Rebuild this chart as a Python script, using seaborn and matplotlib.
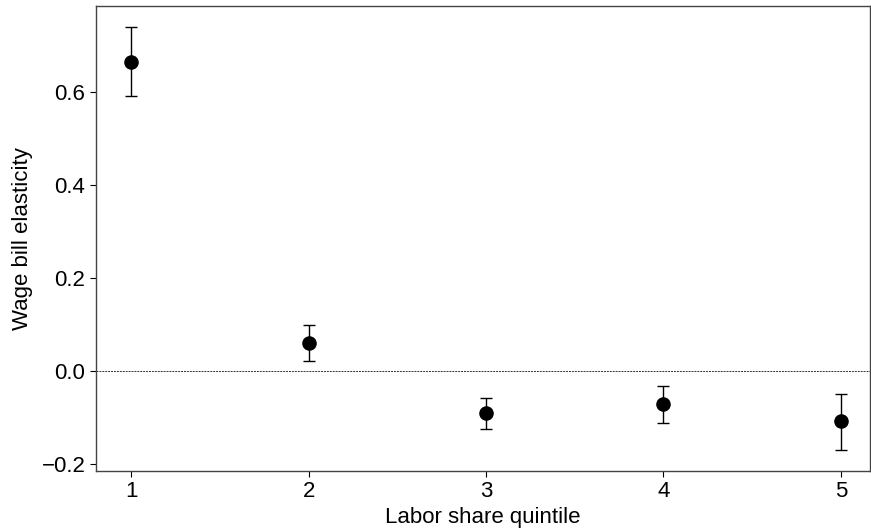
import numpy as np
import pandas as pd
import seaborn as sns
import matplotlib
matplotlib.use("Agg")
import matplotlib.pyplot as plt

quintile = [1, 2, 3, 4, 5]
elasticity = [0.665, 0.060, -0.090, -0.071, -0.108]
ci_low = [0.591, 0.021, -0.125, -0.112, -0.170]
ci_high = [0.740, 0.099, -0.058, -0.032, -0.049]

df = pd.DataFrame({"quintile": quintile, "elasticity": elasticity,
                   "lo": ci_low, "hi": ci_high})

sns.set_style("ticks")
plt.rcParams['font.family'] = ['Liberation Sans', 'DejaVu Sans']

fig, ax = plt.subplots(figsize=(8.71, 5.31), dpi=100)

# zero line
ax.axhline(0, color='#333333', linestyle=(0, (2, 1)), linewidth=0.7, zorder=1)

# error bars
yerr = np.array([df['elasticity'] - df['lo'], df['hi'] - df['elasticity']])
ax.errorbar(df['quintile'], df['elasticity'], yerr=yerr, fmt='none',
            ecolor='black', elinewidth=1.0, capsize=4, capthick=1.0, zorder=2)
sns.scatterplot(data=df, x='quintile', y='elasticity', color='black', s=110,
                edgecolor='black', linewidth=0, ax=ax, zorder=3)

ax.set_xlim(0.8, 5.165)
ax.set_ylim(-0.215, 0.785)
ax.set_xticks(quintile)
ax.set_yticks([-0.2, 0.0, 0.2, 0.4, 0.6])
ax.set_yticklabels(['\u22120.2', '0.0', '0.2', '0.4', '0.6'])
ax.tick_params(labelsize=16, color='black', labelcolor='black', length=4)
ax.set_xlabel('Labor share quintile', fontsize=16, labelpad=3, color='black')
ax.set_ylabel('Wage bill elasticity', fontsize=16, labelpad=6, color='black')
for s in ax.spines.values():
    s.set_color('#444444')
    s.set_linewidth(1.0)

plt.subplots_adjust(left=0.11, right=0.999, top=0.989, bottom=0.113)
plt.savefig('out.png', dpi=100)
